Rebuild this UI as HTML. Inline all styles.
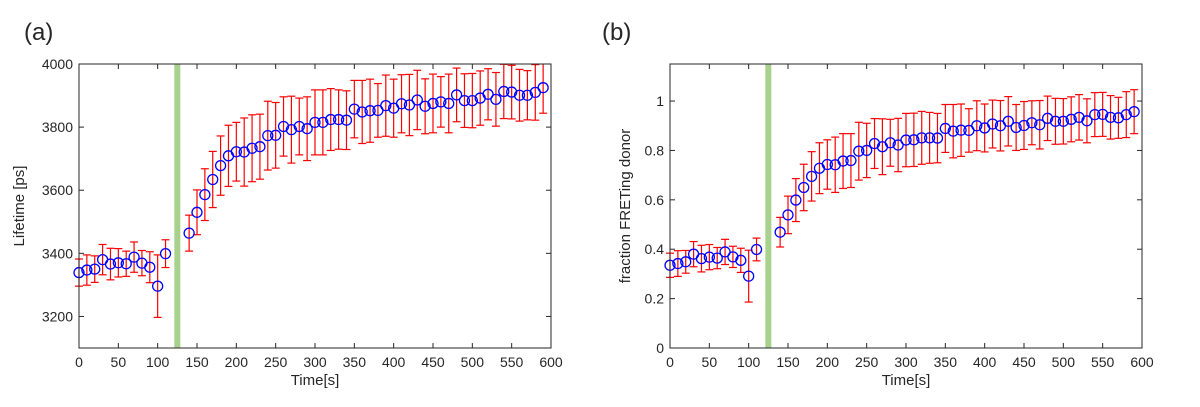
<!DOCTYPE html>
<html><head><meta charset="utf-8"><style>
body{margin:0;background:#fff;width:1200px;height:402px;overflow:hidden;font-family:"Liberation Sans",Arial,sans-serif}
svg text{font-family:"Liberation Sans",Arial,sans-serif;fill:#262626}
</style></head><body>
<svg id="fig" width="1200" height="402"></svg>
<script>
const times=[0,10,20,30,40,50,60,70,80,90,100,110,140,150,160,170,180,190,200,210,220,230,240,250,260,270,280,290,300,310,320,330,340,350,360,370,380,390,400,410,420,430,440,450,460,470,480,490,500,510,520,530,540,550,560,570,580,590];
const lifetime=[3339,3347,3350,3380,3366,3370,3367,3388,3369,3356,3296,3399,3464,3530,3586,3634,3678,3709,3722,3721,3733,3738,3773,3774,3802,3792,3802,3795,3815,3815,3824,3824,3822,3857,3848,3852,3853,3868,3860,3874,3870,3886,3866,3875,3880,3875,3902,3884,3884,3892,3904,3888,3913,3911,3901,3901,3910,3925];
const lifetimeErr=[43,48,42,48,50,45,40,48,40,49,99,44,57,71,82,89,94,97,93,108,106,103,109,104,94,106,90,101,103,103,98,94,93,91,100,100,85,97,92,92,97,94,87,93,80,93,85,85,86,86,81,85,86,85,82,78,88,81];
const fraction=[0.335,0.342,0.349,0.380,0.362,0.368,0.364,0.389,0.369,0.355,0.291,0.399,0.469,0.539,0.599,0.650,0.695,0.728,0.743,0.742,0.757,0.759,0.797,0.800,0.828,0.815,0.831,0.822,0.842,0.843,0.851,0.851,0.850,0.889,0.878,0.882,0.881,0.900,0.891,0.907,0.900,0.918,0.893,0.901,0.912,0.904,0.930,0.918,0.918,0.926,0.934,0.920,0.945,0.946,0.934,0.932,0.945,0.957];
const fractionErr=[0.049,0.052,0.046,0.051,0.054,0.051,0.043,0.051,0.043,0.049,0.105,0.046,0.060,0.076,0.087,0.094,0.100,0.103,0.100,0.112,0.111,0.109,0.117,0.110,0.101,0.113,0.095,0.108,0.108,0.108,0.107,0.103,0.100,0.097,0.108,0.106,0.088,0.101,0.097,0.097,0.102,0.100,0.093,0.097,0.089,0.098,0.090,0.093,0.092,0.091,0.092,0.089,0.089,0.089,0.088,0.083,0.093,0.089];
const xTicks=[0,50,100,150,200,250,300,350,400,450,500,550,600];
const yTicksA=[3200,3400,3600,3800,4000];
const yTicksB=[0,0.2,0.4,0.6,0.8,1];
const stimTime=125;
const NS="http://www.w3.org/2000/svg";
const svg=document.getElementById('fig');
function mk(tag,attrs,parent){const e=document.createElementNS(NS,tag);for(const k in attrs)e.setAttribute(k,attrs[k]);(parent||svg).appendChild(e);return e;}
function panel(cfg){
  const g=mk('g',{});
  
  
  const L=cfg.left,R=cfg.right,T=64,B=348;
  const sx=v=>L+(v-0)/(600-0)*(R-L);
  const sy=v=>B-(v-cfg.ymin)/(cfg.ymax-cfg.ymin)*(B-T);
  // ticks
  xTicks.forEach(t=>{const x=sx(t);
    mk('line',{x1:x,x2:x,y1:B,y2:B-5,stroke:'#262626','stroke-width':1},g);
    mk('line',{x1:x,x2:x,y1:T,y2:T+5,stroke:'#262626','stroke-width':1},g);
    const tx=mk('text',{x:x,y:B+19,'font-size':14,'text-anchor':'middle'},g);tx.textContent=t;
    
    
  });
  cfg.yticks.forEach(v=>{const y=sy(v);
    mk('line',{x1:L,x2:L+5,y1:y,y2:y,stroke:'#262626','stroke-width':1},g);
    mk('line',{x1:R,x2:R-5,y1:y,y2:y,stroke:'#262626','stroke-width':1},g);
    const tx=mk('text',{x:L-6,y:y+5,'font-size':14,'text-anchor':'end'},g);tx.textContent=v;
    
    
  });
  // stimulus bar
  const bar=mk('rect',{x:sx(stimTime)-3,y:T,width:6,height:B-T,fill:'#a9d18e'},g);
  
  
  // errorbars
  times.forEach((t,i)=>{
    const x=sx(t),v=cfg.vals[i],e=cfg.errs[i];
    const y1=Math.max(sy(v+e),T),y2=Math.min(sy(v-e),B);
    const eb=mk('g',{stroke:'#ff0000','stroke-width':1.2},g);
    
    
    mk('line',{x1:x,x2:x,y1:y1,y2:y2},eb);
    if(sy(v+e)>=T)mk('line',{x1:x-4,x2:x+4,y1:y1,y2:y1},eb);
    mk('line',{x1:x-4,x2:x+4,y1:y2,y2:y2},eb);
  });
  times.forEach((t,i)=>{
    const c=mk('circle',{cx:sx(t),cy:sy(cfg.vals[i]),r:5,fill:'none',stroke:'#0000ff','stroke-width':1.3},g);
    
    
  });
  const box=mk('rect',{x:L,y:T,width:R-L,height:B-T,fill:'none',stroke:'#262626','stroke-width':1},g);
  
  
  const xl=mk('text',{x:(L+R)/2,y:B+37,'font-size':15,'text-anchor':'middle'},g);xl.textContent='Time[s]';
  
  
  const yl=mk('text',{x:0,y:0,'font-size':15,'text-anchor':'middle',transform:`translate(${cfg.ylx},${(T+B)/2}) rotate(-90)`},g);yl.textContent=cfg.ylabel;
  
  
  const pl=mk('text',{x:cfg.plx,y:40,'font-size':24,fill:'#000'},g);pl.textContent=cfg.plabel;
  
  
}
panel({name:'panel-a',left:79,right:551,ymin:3100,ymax:4000,yticks:yTicksA,vals:lifetime,errs:lifetimeErr,ylabel:'Lifetime [ps]',ylx:24,plabel:'(a)',plx:24});
panel({name:'panel-b',left:670,right:1142,ymin:0,ymax:1.15,yticks:yTicksB,vals:fraction,errs:fractionErr,ylabel:'fraction FRETing donor',ylx:630,plabel:'(b)',plx:602});
</script>
</body></html>
